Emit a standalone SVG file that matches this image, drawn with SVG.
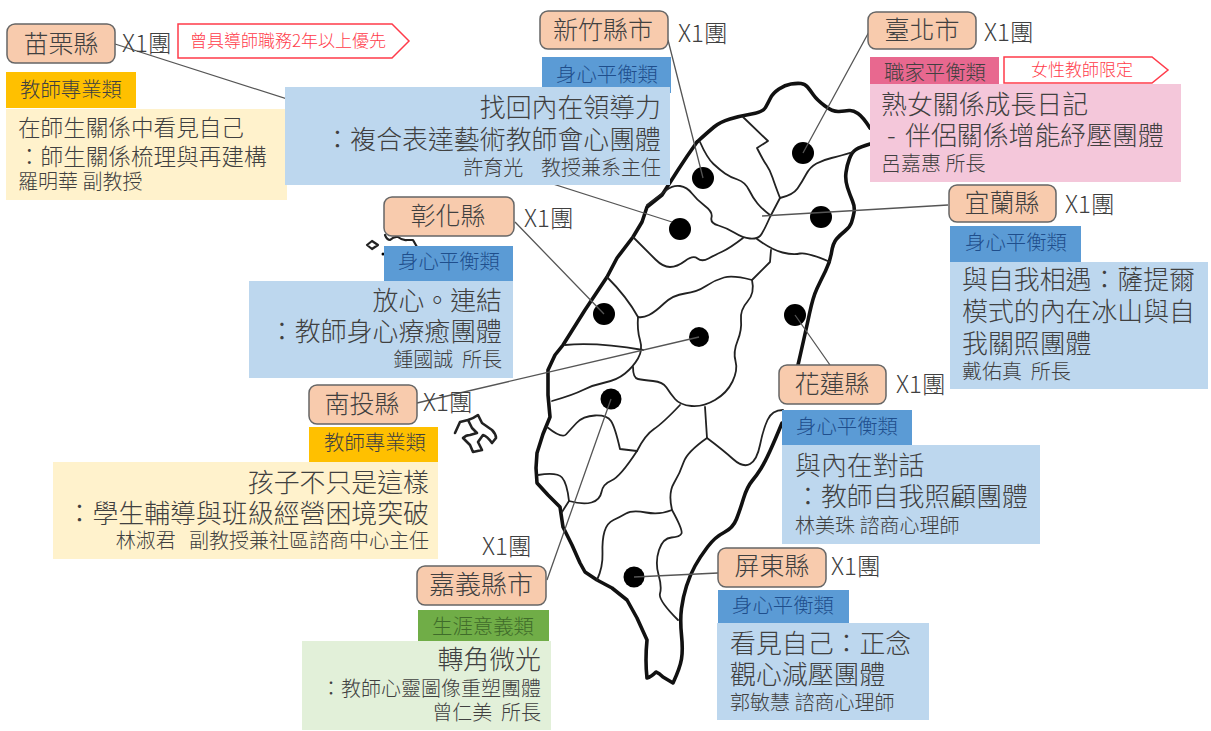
<svg xmlns="http://www.w3.org/2000/svg" width="1211" height="731" viewBox="0 0 1211 731">
<style>
text{font-family:"Noto Sans CJK TC","Noto Sans CJK JP",sans-serif;fill:#404040;font-weight:300}
.r{text-anchor:end}.c{text-anchor:middle}
.t{font-size:25.900px}.m{font-size:22.600px}.s{font-size:20px}.n{font-size:25px}.g{font-size:20.400px}.x{font-size:24px}.w{font-size:17px;fill:#ff3b4a}
.bd{fill:#5b9bd5}.db{fill:#1f4e8c}
.box{fill:#f8cbad;stroke:#666;stroke-width:1.5}
.o{fill:none;stroke:#111;stroke-width:3.6;stroke-linejoin:round;stroke-linecap:round}
.i{fill:none;stroke:#222;stroke-width:1.8;stroke-linejoin:round;stroke-linecap:round}
.d{fill:#000}
.l{fill:none;stroke:#555;stroke-width:1.3}
.tag{fill:#fff;stroke:#ff3b4a;stroke-width:1.5}
</style>
<g id="map">
<path class="o" d="M697,142Q708,132 714,127Q720,122 730,119Q740,116 751.500,114Q763,112 765.500,107.500Q768,103 770.500,98Q773,93 779,89Q785,85 791,84Q797,83 801,83.500Q805,84 807.500,87Q810,90 813.500,95Q817,100 825,106Q833,112 839,111.500Q845,111 849,110.500Q853,110 858,113.500Q863,117 870,128"/>
<path class="o" d="M870,144Q860,147 856,149.500Q852,152 849.500,158.500Q847,165 846,172.500Q845,180 847.500,187.500Q850,195 852.500,201Q855,207 854,212.500Q853,218 851.500,222.500Q850,227 845,231Q840,235 836.500,239Q833,243 831.500,252.500Q830,262 825.500,271Q821,280 817,288.500Q813,297 809.500,313.500Q806,330 798,365"/>
<path class="o" d="M782,423Q775,440 770,451Q765,462 761,468.500Q757,475 752,481Q747,487 743.500,498.500Q740,510 736.500,519Q733,528 724,532.500Q715,537 707.500,547Q700,557 695,566Q690,575 686.500,586Q683,597 681.500,608.500Q680,620 681.500,635Q683,650 681.500,659Q680,668 673,683Q668,680 663,677Q659,673 656,672Q651,677 647,678Q646,669 646,660Q646,650 647,640Q642,629 637,618Q632,609 627,600Q619.500,594 612,588Q604.500,584 597,580Q591,576 585,572Q582.500,567.500 580,563Q576,554 572,545Q567.500,536 563,527Q561.500,517 560,507Q554,501 548,495Q542.500,489 537,483Q536.500,475.500 536,468Q536.500,460.500 537,453Q540,443.500 543,434Q546.500,425.500 550,417Q549,406 548,395Q548,382.500 548,370Q551.500,362.500 555,355Q559,350 563,345Q574,327.500 585,310Q596,293.500 607,277Q612,267.500 617,258Q625,247.500 633,237Q637.500,229.500 642,222Q644.500,214.500 647,207Q654.500,201 662,195Q670,182.500 678,170Q687,156 697,142"/>
<path class="i" d="M743,117L768,141L757,148Q763,160 766.500,165Q770,170 772.500,177.500Q775,185 780,198Q793,195 797.500,188.500Q802,182 806,174.500Q810,167 816.500,163.500Q823,160 831.500,158Q840,156 853,152"/>
<path class="i" d="M780,198L770,217Q763,233 760,236Q757,239 750,238.500Q743,238 735,233Q727,228 718.500,225.500Q710,223 711.500,217.500Q713,212 705,206Q697,200 692,193.500Q687,187 680,186Q673,185 666.500,190Q660,195 647,205"/>
<path class="i" d="M700,142Q707,158 713.500,164Q720,170 725,173.500Q730,177 737.500,179.500Q745,182 749,190Q753,198 757.500,203.500Q762,209 770,215"/>
<path class="i" d="M743,238Q730,248 722.500,251.500Q715,255 708.500,258.500Q702,262 697.500,258.500Q693,255 685,261Q677,267 670,267Q663,267 655.500,259.500L633,237"/>
<path class="i" d="M757,239Q772,250 782.500,252.500Q793,255 800,253.500Q807,252 830,262"/>
<path class="i" d="M771,250L770,262L752,280Q733,275 724,277.500Q715,280 706,286Q697,292 685,293.500Q673,295 664,303.500Q655,312 649,315Q643,318 638,317Q627,297 607,277"/>
<path class="i" d="M752,280Q755,293 747.500,301.500Q740,310 741,320Q742,330 737.500,341Q733,352 735.500,361Q738,370 732.500,381.500Q727,393 715,400Q703,407 691.500,406Q680,405 675,399Q670,393 666.500,387.500Q663,382 653,381Q643,380 638,379Q633,378 633,367"/>
<path class="i" d="M638,317Q637,330 640,340Q643,350 638,358.500Q633,367 625,373.500Q617,380 605,382.500Q593,385 583,390Q573,395 552,401"/>
<path class="i" d="M565,345Q597,342 643,350"/>
<path class="i" d="M680,405Q663,423 654,429Q645,435 637,451L620,449Q615,427 611,421Q607,415 595,415.500Q583,416 576.500,423Q570,430 566,434.500Q562,439 547,427"/>
<path class="i" d="M637,451Q620,477 611.500,480.500Q603,484 601.500,492Q600,500 591.500,502.500Q583,505 569,501L562,512"/>
<path class="i" d="M569,501Q567,483 562,477.500Q557,472 538,475"/>
<path class="i" d="M705,407L707,438Q723,450 733,459Q743,468 750,464Q757,460 760,445Q763,430 767.500,420Q772,410 783,410"/>
<path class="i" d="M707,438Q687,452 683.500,462.500Q680,473 674,483Q668,493 672,510Q683,530 681.500,533.500Q680,537 671.500,537.500Q663,538 659,550Q655,562 658.500,574.500Q662,587 660,593.500Q658,600 678,620"/>
<path class="i" d="M672,510Q660,515 646,512.500Q632,510 626,513.500Q620,517 613.500,520Q607,523 604.500,531.500Q602,540 602.500,553.500Q603,567 597,580"/>
<path class="i" style="stroke-width:2.200" d="M372,241L378,245L372,249L367,245Z"/>
<path class="i" style="stroke-width:2.200" d="M385,235Q387,240 390,240Q394,236 398,237Q403,241 407,240L413,240L417,247"/>
<circle class="d" cx="383" cy="254" r="1.500"/>
<path class="i" style="stroke-width:2.600" d="M455,433L460,422L468,420Q474,418 478,415L482,423L492,430Q496,434 496,438L492,443Q487,436 483,435L478,442L482,450L473,452L470,445L463,438Q466,435 470,435L477,433L472,428L468,420"/>
<circle class="d" cx="803" cy="153" r="11"/><circle class="d" cx="703" cy="178" r="11"/><circle class="d" cx="680" cy="229" r="11"/><circle class="d" cx="821" cy="217" r="11"/><circle class="d" cx="604" cy="314" r="11"/><circle class="d" cx="699" cy="337" r="10"/><circle class="d" cx="795" cy="315" r="11"/><circle class="d" cx="611" cy="399" r="10.500"/><circle class="d" cx="634" cy="577" r="10.500"/>
</g>
<g id="connectors">
<path class="l" d="M115,44L672,222M668,40L703,178M870,30L803,153M948,205L762,216M515,222L604,314M417,403L699,337M830,365L795,315M547,580L611,399M718,573L634,577"/>
</g>
<g id="miaoli">
<rect x="7" y="24" width="108" height="39" rx="8" class="box"/><text class="n c" x="61" y="53">苗栗縣</text>
<text class="x" x="122" y="52">X1團</text>
<path class="tag" d="M178,24H392L409,41L392,58H178Z"/><text class="w" x="190" y="47">曾具導師職務2年以上優先</text>
<rect x="6" y="72" width="130" height="36" fill="#ffc000"/><text class="g c" x="71" y="97">教師專業類</text>
<rect x="6" y="109" width="281" height="91" fill="#fff2cc"/>
<text class="m" x="18" y="136">在師生關係中看見自己</text><text class="m" x="18" y="165">：師生關係梳理與再建構</text><text class="s" x="18" y="189">羅明華 副教授</text>
</g>
<g id="hsinchu">
<rect x="540" y="11" width="128" height="38" rx="8" class="box"/><text class="n c" x="603" y="39">新竹縣市</text>
<text class="x" x="678" y="42">X1團</text>
<rect x="542" y="57" width="129" height="36" class="bd"/><text class="g c db" x="607" y="82">身心平衡類</text>
<rect x="285" y="87" width="385" height="98" fill="#bdd7ee"/>
<text class="t r" x="661" y="117">找回內在領導力</text><text class="t r" x="661" y="149">：複合表達藝術教師會心團體</text><text class="s r" x="661" y="175">許育光&#160;&#160;&#160;&#160;教授兼系主任</text>
</g>
<g id="taipei">
<rect x="868" y="12" width="108" height="37" rx="8" class="box"/><text class="n c" x="922" y="39">臺北市</text>
<text class="x" x="984" y="41">X1團</text>
<rect x="870" y="57" width="129" height="36" fill="#e8688f"/><text class="g c" x="935" y="80">職家平衡類</text>
<rect x="870" y="84" width="311" height="98" fill="#f4c7da"/>
<path class="tag" d="M1004,57H1152L1168,70L1152,83H1004Z"/><text class="w" x="1031" y="76">女性教師限定</text>
<text class="t" x="881" y="114">熟女關係成長日記</text><text class="t" x="887" y="145">-<tspan x="905">伴侶關係增能紓壓團體</tspan></text><text class="s" x="881" y="171">呂嘉惠 所長</text>
</g>
<g id="yilan">
<rect x="949" y="185" width="107" height="37" rx="8" class="box"/><text class="n c" x="1002" y="212">宜蘭縣</text>
<text class="x" x="1065" y="213">X1團</text>
<rect x="950" y="226" width="131" height="36" class="bd"/><text class="g c db" x="1016" y="250">身心平衡類</text>
<rect x="950" y="262" width="258" height="127" fill="#bdd7ee"/>
<text class="t" x="962" y="289">與自我相遇：薩提爾</text><text class="t" x="962" y="321">模式的內在冰山與自</text><text class="t" x="962" y="353">我關照團體</text><text class="s" x="962" y="379">戴佑真&#160;&#160;所長</text>
</g>
<g id="changhua">
<rect x="384" y="197" width="130" height="39" rx="8" class="box"/><text class="n c" x="448" y="225">彰化縣</text>
<text class="x" x="524" y="227">X1團</text>
<rect x="384" y="246" width="129" height="35" class="bd"/><text class="g c db" x="449" y="269">身心平衡類</text>
<rect x="249" y="281" width="264" height="97" fill="#bdd7ee"/>
<text class="t r" x="502" y="310">放心。連結</text><text class="t r" x="502" y="341">：教師身心療癒團體</text><text class="s r" x="502" y="367">鍾國誠&#160;&#160;所長</text>
</g>
<g id="nantou">
<rect x="309" y="385" width="108" height="39" rx="8" class="box"/><text class="n c" x="362" y="413">南投縣</text>
<text class="x" x="423" y="411">X1團</text>
<rect x="309" y="427" width="129" height="36" fill="#ffc000"/><text class="g c" x="375" y="450">教師專業類</text>
<rect x="53" y="462" width="385" height="97" fill="#fff2cc"/>
<text class="t r" x="429" y="492">孩子不只是這樣</text><text class="t r" x="429" y="523">：學生輔導與班級經營困境突破</text><text class="s r" x="429" y="548">林淑君&#160;&#160;&#160;副教授兼社區諮商中心主任</text>
</g>
<g id="chiayi">
<text class="x" x="482" y="555">X1團</text>
<rect x="417" y="566" width="129" height="39" rx="8" class="box"/><text class="c" style="font-size:26px" x="481" y="594">嘉義縣市</text>
<rect x="418" y="610" width="131" height="31" fill="#70ad47"/><text class="g c" x="483" y="634" style="fill:#3f6b2a">生涯意義類</text>
<rect x="302" y="641" width="249" height="89" fill="#e2f0d9"/>
<text class="t r" x="541" y="669">轉角微光</text><text class="s r" x="541" y="696">：教師心靈圖像重塑團體</text><text class="s r" x="541" y="720">曾仁美&#160;&#160;所長</text>
</g>
<g id="hualien">
<rect x="779" y="365" width="107" height="39" rx="8" class="box"/><text class="n c" x="832" y="393">花蓮縣</text>
<text class="x" x="896" y="393">X1團</text>
<rect x="782" y="410" width="130" height="35" class="bd"/><text class="g c db" x="847" y="434">身心平衡類</text>
<rect x="782" y="445" width="258" height="99" fill="#bdd7ee"/>
<text class="t" x="795" y="475">與內在對話</text><text class="t" x="795" y="506">：教師自我照顧團體</text><text class="s" x="795" y="533">林美珠 諮商心理師</text>
</g>
<g id="pingtung">
<rect x="718" y="548" width="108" height="39" rx="8" class="box"/><text class="n c" x="772" y="575">屏東縣</text>
<text class="x" x="831" y="575">X1團</text>
<rect x="718" y="590" width="131" height="33" class="bd"/><text class="g c db" x="783" y="613">身心平衡類</text>
<rect x="717" y="623" width="212" height="97" fill="#bdd7ee"/>
<text class="t" x="730" y="653">看見自己：正念</text><text class="t" x="730" y="684">觀心減壓團體</text><text class="s" x="730" y="710">郭敏慧 諮商心理師</text>
</g>
</svg>
